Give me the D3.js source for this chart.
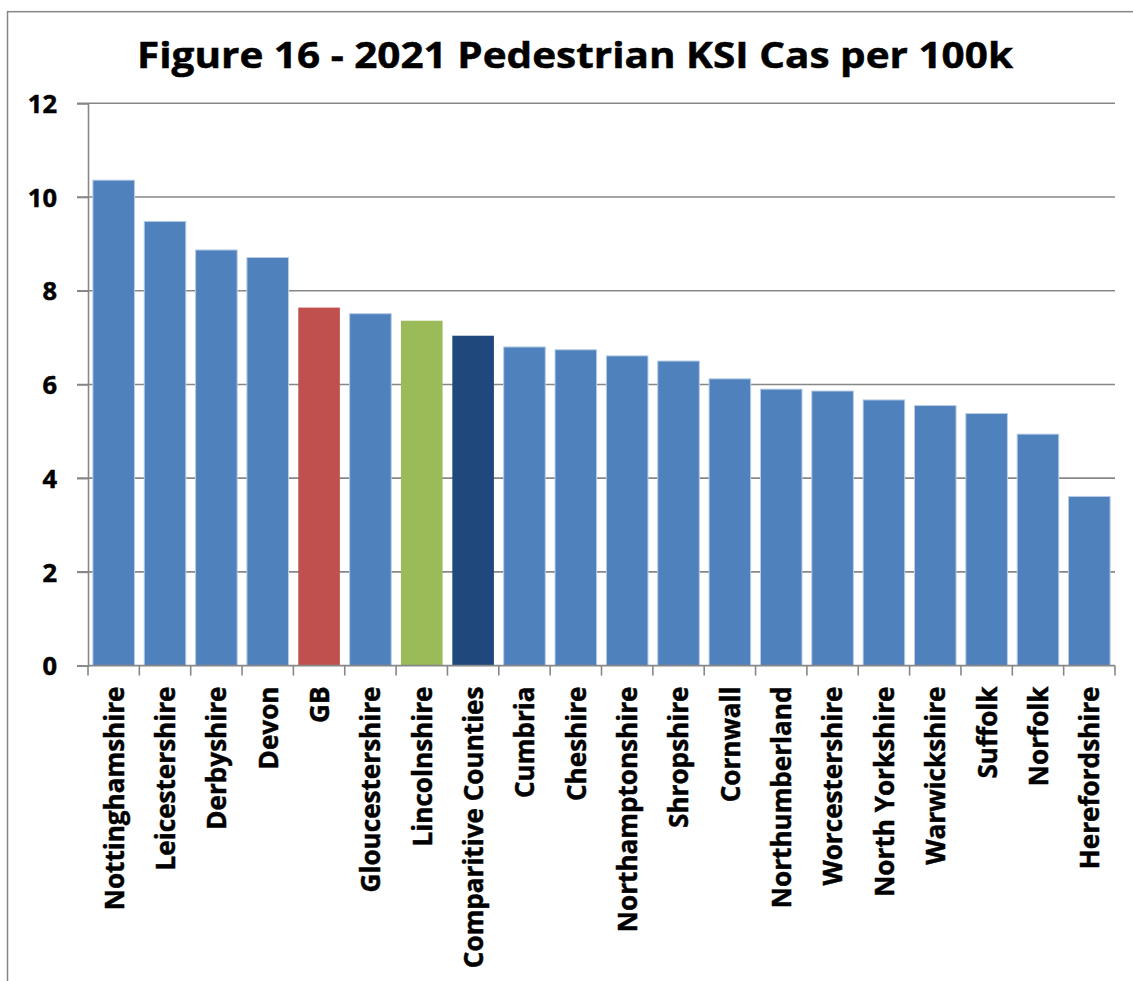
<!DOCTYPE html>
<html>
<head>
<meta charset="utf-8">
<script src="https://cdn.jsdelivr.net/npm/d3@7"></script>
<style>
  html, body { margin: 0; padding: 0; background: #fff; }
  svg { display: block; }
  text { font-family: "Open Sans", "Noto Sans", sans-serif; font-weight: bold; fill: #000; stroke: #000; stroke-width: 0.5px; }
</style>
</head>
<body>
<svg id="chart" width="1133" height="981"></svg>
<script>
const title = "Figure 16 - 2021 Pedestrian KSI Cas per 100k";
const categories = ["Nottinghamshire", "Leicestershire", "Derbyshire", "Devon", "GB",
  "Gloucestershire", "Lincolnshire", "Comparitive Counties", "Cumbria", "Cheshire",
  "Northamptonshire", "Shropshire", "Cornwall", "Northumberland", "Worcestershire",
  "North Yorkshire", "Warwickshire", "Suffolk", "Norfolk", "Herefordshire"];
const values = [10.36, 9.48, 8.87, 8.71, 7.64, 7.51, 7.36, 7.04, 6.80, 6.74,
  6.61, 6.50, 6.12, 5.90, 5.86, 5.67, 5.55, 5.38, 4.94, 3.61];
const yTicks = [0, 2, 4, 6, 8, 10, 12];
const barColors = { "GB": "#c0504d", "Lincolnshire": "#9bbb59", "Comparitive Counties": "#1f497d" };
const defaultColor = "#4f81bd";

(function () {
const svg = d3.select("#chart");
const mLeft = 88, mRight = 1115, mTop = 103.3, mBottom = 665.6;
const grid = "#878787";

// outer chart border
svg.append("rect").attr("x", 7.5).attr("y", 11.7).attr("width", 1140).attr("height", 1000)
  .attr("fill", "none").attr("stroke", grid).attr("stroke-width", 1.5);

const x = d3.scaleBand().domain(categories).range([mLeft, mRight]).paddingInner(0.19).paddingOuter(0.095);
const y = d3.scaleLinear().domain([0, 12]).range([mBottom, mTop]);

// gridlines
svg.append("g").selectAll("line").data(yTicks.filter(d => d > 0)).join("line")
  .attr("x1", mLeft - 11).attr("x2", mRight)
  .attr("y1", d => y(d)).attr("y2", d => y(d))
  .attr("stroke", grid).attr("stroke-width", 1.6);

// bars
svg.append("g").selectAll("rect").data(categories).join("rect")
  .attr("x", d => x(d)).attr("width", x.bandwidth())
  .attr("y", (d, i) => y(values[i])).attr("height", (d, i) => y(0) - y(values[i]))
  .attr("fill", d => barColors[d] || defaultColor)
  .attr("stroke", d => barColors[d] ? "none" : "#b9cde5")
  .attr("stroke-width", 1);

// y axis
const yAxis = svg.append("g").attr("transform", `translate(${mLeft},0)`)
  .call(d3.axisLeft(y).tickValues(yTicks).tickSize(11).tickPadding(20).tickFormat(d3.format("d")));
yAxis.select(".domain").attr("stroke", grid).attr("stroke-width", 1.6);
yAxis.selectAll(".tick line").attr("stroke", grid).attr("stroke-width", 1.6);
yAxis.selectAll(".tick text").attr("font-size", 25.5).attr("dy", "0.36em")
  .style("font-family", '"Open Sans", sans-serif').style("font-weight", "bold")
  .attr("fill", "#000").attr("stroke", "#000").attr("stroke-width", 0.6);

// x axis with ticks at category boundaries
const xAxisG = svg.append("g");
xAxisG.append("line").attr("x1", mLeft).attr("x2", mRight).attr("y1", mBottom).attr("y2", mBottom)
  .attr("stroke", grid).attr("stroke-width", 1.6);
const boundaries = categories.map(c => x(c) - x.step() * x.paddingInner() / 2).concat([mRight]);
xAxisG.selectAll("line.tk").data(boundaries).join("line").attr("class", "tk")
  .attr("x1", d => d).attr("x2", d => d).attr("y1", mBottom).attr("y2", mBottom + 10)
  .attr("stroke", grid).attr("stroke-width", 1.6);

const labelY = 686.5;
const labels = xAxisG.selectAll("text.lbl").data(categories).join("text").attr("class", "lbl")
  .attr("font-size", 27.5).attr("text-anchor", "end").attr("dy", "0.36em")
  .text(d => d);
// horizontal compression to match narrow original typeface
const refLen = labels.filter(d => d === "Nottinghamshire").node().getComputedTextLength();
const k = 224 / refLen;
labels.attr("transform", d => `translate(${x(d) + x.bandwidth() / 2},${labelY}) rotate(-90) scale(${k},1)`);

// title
const t = svg.append("text").attr("x", 575).attr("y", 68).attr("text-anchor", "middle")
  .attr("font-size", 36.5).text(title);
t.attr("textLength", 876).attr("lengthAdjust", "spacingAndGlyphs");
})();
</script>
</body>
</html>
